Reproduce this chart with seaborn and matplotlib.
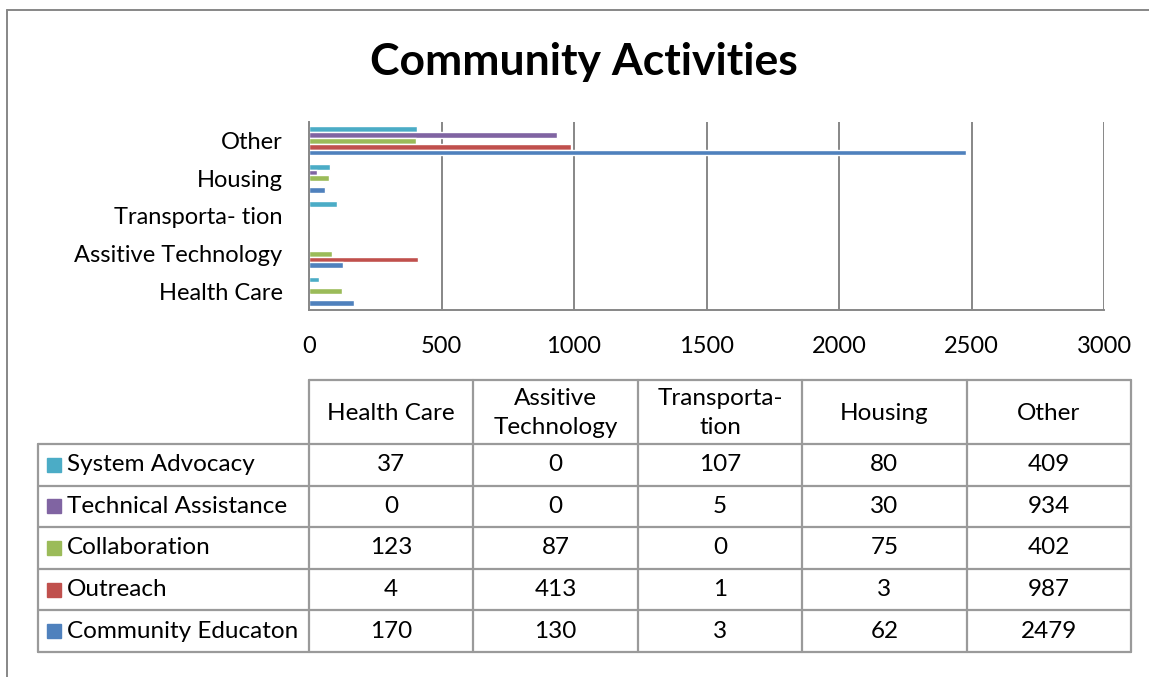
import pandas as pd
import matplotlib.pyplot as plt
import seaborn as sns

categories = ["Health Care", "Assitive Technology", "Transporta- tion", "Housing", "Other"]
header_labels = ["Health Care", "Assitive\nTechnology", "Transporta-\ntion", "Housing", "Other"]
series = ["System Advocacy", "Technical Assistance", "Collaboration", "Outreach", "Community Educaton"]
system_advocacy = [37, 0, 107, 80, 409]
technical_assistance = [0, 0, 5, 30, 934]
collaboration = [123, 87, 0, 75, 402]
outreach = [4, 413, 1, 3, 987]
community_education = [170, 130, 3, 62, 2479]
colors = ["#4BACC6", "#8064A2", "#9BBB59", "#C0504D", "#4F81BD"]
x_ticks = [0, 500, 1000, 1500, 2000, 2500, 3000]

values = [system_advocacy, technical_assistance, collaboration, outreach, community_education]
rows = []
for name, vals in zip(series, values):
    for cat, v in zip(categories, vals):
        rows.append({"category": cat, "series": name, "value": v})
df = pd.DataFrame(rows)

sns.set_style("white")
plt.rcParams["font.family"] = ["Lato", "DejaVu Sans"]
plt.rcParams["text.color"] = "black"
plt.rcParams["xtick.color"] = "black"
plt.rcParams["ytick.color"] = "black"

W, H = 1149, 677
fig = plt.figure(figsize=(W / 100, H / 100), dpi=100)
grey = "#878787"
fs = 17
tfs = 17.5

# chart area
ax = fig.add_axes([309 / W, 1 - 310 / H, (1104 - 309) / W, (310 - 122) / H])
sns.barplot(data=df, x="value", y="category", hue="series",
            order=categories[::-1], hue_order=series, palette=colors,
            orient="h", width=0.78, saturation=1, errorbar=None,
            legend=False, ax=ax)
ax.set_xlim(0, 3000)
ax.set_xticks(x_ticks)
ax.set_xlabel("")
ax.set_ylabel("")
ax.grid(axis="x", color=grey, linewidth=1.4)
ax.set_axisbelow(True)
for side in ["top", "right"]:
    ax.spines[side].set_visible(False)
for side in ["left", "bottom"]:
    ax.spines[side].set_color(grey)
    ax.spines[side].set_linewidth(1.4)
ax.tick_params(axis="x", length=0, pad=19, labelsize=fs, labelcolor="black")
ax.tick_params(axis="y", length=0, pad=19, labelsize=fs, labelcolor="black")

# overlay for title, table and frame (pixel coordinates)
ov = fig.add_axes([0, 0, 1, 1], zorder=-1)
ov.set_xlim(0, W)
ov.set_ylim(H, 0)
ov.axis("off")

ov.plot([7, 7], [10, H], color=grey, lw=1.4)
ov.plot([7, W], [10, 10], color=grey, lw=1.4)
ov.text(584, 62, "Community Activities", ha="center", va="center",
        fontsize=32, fontweight="bold", color="black")

col_x = [309, 473.4, 637.8, 802.2, 966.6, 1131]
row_y = [444, 485.6, 527.2, 568.8, 610.4, 652]
lc = "#9a9a9a"
lw = 1.6
# header row
ov.plot([309, 1131], [380, 380], color=lc, lw=lw)
for x in col_x:
    ov.plot([x, x], [380, 652], color=lc, lw=lw)
for y in row_y:
    ov.plot([38, 1131], [y, y], color=lc, lw=lw)
ov.plot([38, 38], [444, 652], color=lc, lw=lw)

for i, lab in enumerate(header_labels):
    cx = (col_x[i] + col_x[i + 1]) / 2
    ov.text(cx, 413, lab, ha="center", va="center", fontsize=tfs, linespacing=1.42)

for r, (name, vals, c) in enumerate(zip(series, values, colors)):
    cy = (row_y[r] + row_y[r + 1]) / 2
    ov.add_patch(plt.Rectangle((47, cy - 7), 14, 14, color=c))
    ov.text(67, cy, name, ha="left", va="center", fontsize=tfs)
    for i, v in enumerate(vals):
        cx = (col_x[i] + col_x[i + 1]) / 2
        ov.text(cx, cy, str(v), ha="center", va="center", fontsize=tfs)

fig.savefig("out.png", dpi=100)
